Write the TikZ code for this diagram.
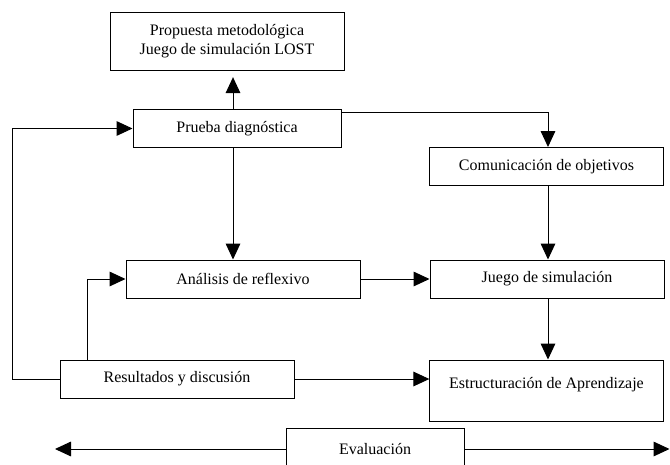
\documentclass[tikz,border=0pt]{standalone}
\usepackage{fontspec}
\setmainfont{Liberation Serif}
\usetikzlibrary{arrows.meta}
\usetikzlibrary{positioning}
\tikzset{box/.style = {draw, line width=0.75pt, inner sep=0pt, align=center,
                       minimum height=28.5pt}}
\tikzset{arr/.style = {line width=0.75pt, -{Triangle[length=12pt,width=11pt]}}}

\begin{document}
\begin{tikzpicture}[x=0.75pt, y=-0.75pt, font=\fontsize{12}{14.5}\selectfont]
    \useasboundingbox (0, 0) rectangle (670, 464);
    \node [box, minimum width=175.5pt, minimum height=43.5pt] (prop) at (227, 41)
        {Propuesta metodológica\\Juego de simulación LOST};
    \node [box, minimum width=156pt] (prueba) at (237, 128.5) {Prueba diagnóstica};
    \node [box, minimum width=175pt] (comun) at (546.5, 166.5) {Comunicación de objetivos};
    \node [box, minimum width=175.5pt] (anal) at (243, 279) {Análisis de reflexivo};
    \node [box, minimum width=175.5pt] (juego) at (547, 279) {Juego de simulación};
    \node [box, minimum width=175.5pt] (result) at (177, 379) {Resultados y discusión};
    \node [box, minimum width=175pt, minimum height=45.75pt,
           text height=8.5pt, text depth=11.5pt] (estr) at (546.5, 390.5)
        {Estructuración de Aprendizaje};
    \node [box, minimum width=133.5pt, minimum height=31.5pt] (eval) at (375, 449) {Evaluación};

    \coordinate (loop) at (12, 379);
    \coordinate (up) at (87, 360);
    \coordinate (turn) at (548, 112);
    \coordinate (evl) at (55, 449);
    \coordinate (evr) at (669.5, 449);

    \draw [arr, shorten >=5pt] (prueba.north -| 233, 0) -- (prop.south -| 233, 0);
    \draw [arr] (result.west) -- (loop) |- (prueba.west);
    \draw [arr] (up) |- (anal.west);
    \draw [arr] (prueba.south -| 233, 0) -- (anal.north -| 233, 0);
    \draw [arr] (anal.east) -- (juego.west);
    \draw [arr] (prueba.east |- turn) -- (turn) -- (comun.north -| turn);
    \draw [arr] (comun.south -| turn) -- (juego.north -| turn);
    \draw [arr] (juego.south -| turn) -- (estr.north -| turn);
    \draw [arr] (result.east) -- (result.east -| estr.west);
    \draw [arr] (eval.west) -- (evl);
    \draw [arr] (eval.east) -- (evr);
\end{tikzpicture}
\end{document}
